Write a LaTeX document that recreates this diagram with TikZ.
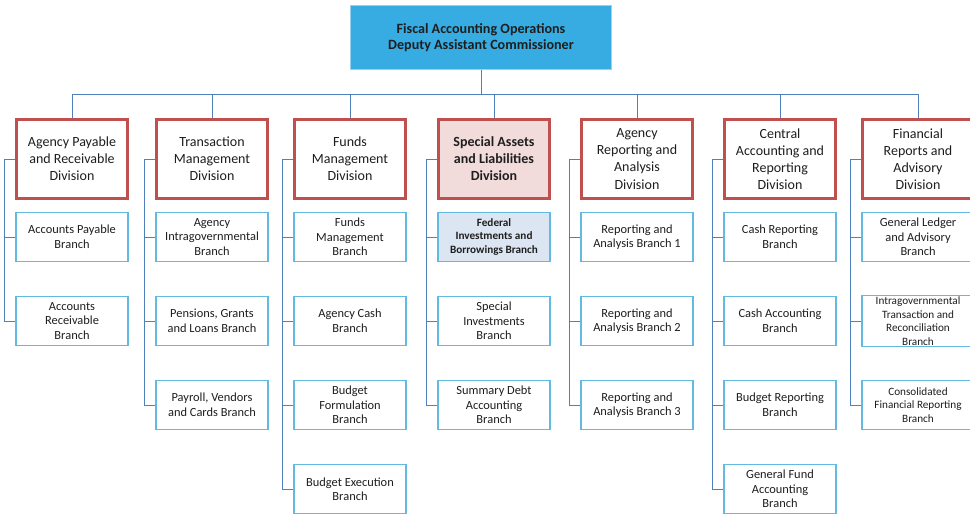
\documentclass[tikz,border=0pt]{standalone}
\usepackage{fontspec}
\setmainfont{Carlito}
\usetikzlibrary{positioning,calc}

\definecolor{topfill}{RGB}{55,172,226}
\definecolor{topline}{RGB}{150,210,240}
\definecolor{divred}{RGB}{192,80,77}
\definecolor{divpink}{RGB}{242,220,219}
\definecolor{brline}{RGB}{100,185,225}
\definecolor{brfill}{RGB}{220,230,242}
\definecolor{linkblue}{RGB}{79,129,189}
\definecolor{txt}{RGB}{30,30,30}

\begin{document}
\begin{tikzpicture}[
        x=0.75pt, y=-0.75pt,
        headbox/.style={draw=topline,fill=topfill,line width=0.8pt,minimum width=196pt,minimum height=48pt,
            align=center,text=txt,font=\fontsize{10.6}{12.2}\selectfont\bfseries},
        divbox/.style={draw=divred,fill=white,line width=2.4pt,minimum width=83pt,minimum height=59pt,
            align=center,text=txt,font=\fontsize{10.5}{12.8}\selectfont,inner sep=1pt},
        divhi/.style={divbox,fill=divpink,font=\fontsize{10.5}{12.8}\selectfont\bfseries},
        branch/.style={draw=brline,fill=white,line width=0.8pt,minimum width=84pt,minimum height=37pt,
            align=center,text=txt,font=\fontsize{9.3}{10.9}\selectfont,inner sep=1pt},
        branchhi/.style={branch,fill=brfill,font=\fontsize{8.4}{10.4}\selectfont\bfseries},
        branchsm/.style={branch,font=\fontsize{8.4}{10.2}\selectfont},
        link/.style={draw=linkblue,line width=0.75pt}
    ]
    \useasboundingbox (0,0) rectangle (970,514);

    % Head of the office
    \node[headbox] (top) at (481,37.5) {Fiscal Accounting Operations\\Deputy Assistant Commissioner};

    % Divisions
    \node[divbox] (div1) at (72,159) {Agency Payable\\and Receivable\\Division};
    \node[divbox] (div2) at (212,159) {Transaction\\Management\\Division};
    \node[divbox] (div3) at (350,159) {Funds\\Management\\Division};
    \node[divhi]  (div4) at (494,159) {Special Assets\\and Liabilities\\Division};
    \node[divbox] (div5) at (637,159) {Agency\\Reporting and\\Analysis\\Division};
    \node[divbox] (div6) at (780,159) {Central\\Accounting and\\Reporting\\Division};
    \node[divbox] (div7) at (918,159) {Financial\\Reports and\\Advisory\\Division};

    % Branches, one column under each division (rows 84px apart)
    \foreach \t [count=\j] in {{Accounts Payable\\Branch},{Accounts\\Receivable\\Branch}}
        \node[branch] (b1-\j) at (72,{153+84*\j}) {\t};
    \foreach \t [count=\j] in {{Agency\\Intragovernmental\\Branch},{Pensions, Grants\\and Loans Branch},{Payroll, Vendors\\and Cards Branch}}
        \node[branch] (b2-\j) at (212,{153+84*\j}) {\t};
    \foreach \t [count=\j] in {{Funds\\Management\\Branch},{Agency Cash\\Branch},{Budget\\Formulation\\Branch},{Budget Execution\\Branch}}
        \node[branch] (b3-\j) at (350,{153+84*\j}) {\t};
    \node[branchhi] (b4-1) at (494,237) {Federal\\Investments and\\Borrowings Branch};
    \node[branch] (b4-2) at (494,321) {Special\\Investments\\Branch};
    \node[branch] (b4-3) at (494,405) {Summary Debt\\Accounting\\Branch};
    \foreach \j in {1,2,3}
        \node[branch] (b5-\j) at (637,{153+84*\j}) {Reporting and\\Analysis Branch \j};
    \foreach \t [count=\j] in {{Cash Reporting\\Branch},{Cash Accounting\\Branch},{Budget Reporting\\Branch},{General Fund\\Accounting\\Branch}}
        \node[branch] (b6-\j) at (780,{153+84*\j}) {\t};
    \node[branch] (b7-1) at (918,237) {General Ledger\\and Advisory\\Branch};
    \node[branchsm] (b7-2) at (918,321) {Intragovernmental\\Transaction and\\Reconciliation\\Branch};
    \node[branchsm] (b7-3) at (918,405) {Consolidated\\Financial Reporting\\Branch};

    % Bus from the head down to every division
    \coordinate (bus) at (0,94);
    \draw[link] (top.south) -- (top.south |- bus);
    \draw[link] (div1.north |- bus) -- (div7.north |- bus);
    \foreach \i in {1,...,7}
        \draw[link] (div\i.north |- bus) -- (div\i.north);

    % Side lines from each division to its branches
    \foreach \i/\n in {1/2,2/3,3/4,4/3,5/3,6/4,7/3}
        \foreach \j in {1,...,\n}
            \draw[link] (div\i.west) -- ++(-11,0) |- (b\i-\j.west);

\end{tikzpicture}
\end{document}
